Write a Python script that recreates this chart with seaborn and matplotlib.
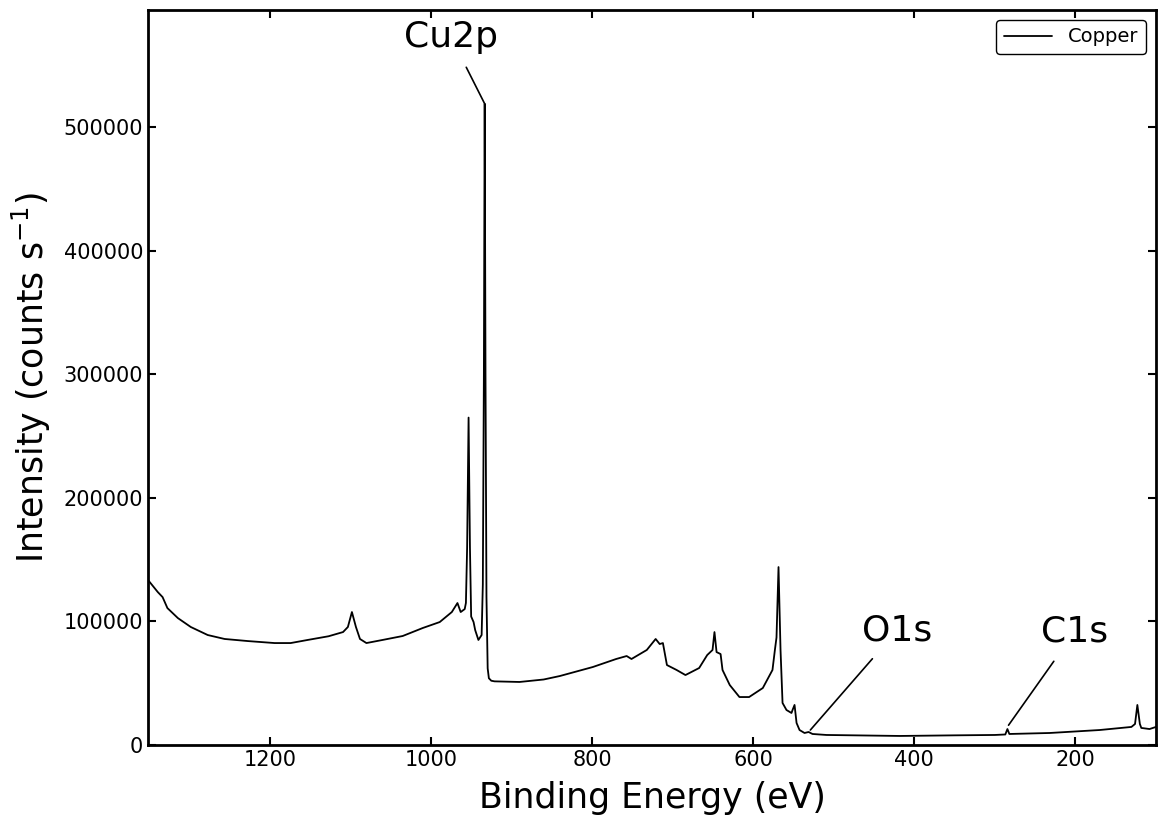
import pandas as pd
import matplotlib
matplotlib.use("Agg")
import matplotlib.pyplot as plt
import seaborn as sns
from matplotlib.ticker import ScalarFormatter

# =========================
# Data
# =========================

energy = [
    1351, 1339, 1333, 1327, 1314, 1298, 1277, 1256, 1227, 1194,
    1174, 1153, 1127, 1109, 1103, 1098, 1093, 1088, 1080, 1060,
    1035, 1010, 989, 974, 967, 963, 958, 956.5, 955.0, 953.2,
    951.5, 950.0, 947, 945, 941, 937.0, 935.5, 934.2, 933.2, 932.2,
    931.0, 929.5, 928.0, 925, 921, 890, 860, 840, 799, 770,
    757, 751, 732, 721, 716, 712, 707, 695, 684, 667,
    657, 650.4, 648, 645.4, 640.4, 638, 629, 617, 605, 588,
    576, 573, 571, 568.5, 566, 563.5, 558.6, 552.4, 551.1, 548.6,
    546.1, 542.4, 536.2, 531.2, 526.3, 509, 418, 350, 300, 287,
    284.4, 282, 232, 170, 130.5, 126, 123.1, 120, 118.2, 108,
    100,
]

intensity = [
    133500, 123800, 119700, 110800, 102700, 95500, 89000, 85800, 84100, 82500,
    82500, 85000, 88000, 91400, 95500, 107600, 95500, 85800, 82500, 85000,
    88200, 94700, 99500, 107600, 114900, 107600, 110000, 115000, 160000, 265000,
    160000, 104000, 99500, 93000, 85000, 89000, 130000, 300000, 519000, 300000,
    120000, 62000, 54000, 52000, 51500, 51000, 53000, 55800, 63100, 69600,
    72000, 69600, 76900, 85800, 81700, 82500, 64700, 60700, 56600, 62300,
    72800, 76900, 91400, 75200, 73600, 60700, 48500, 38800, 38800, 46100,
    60700, 76900, 87000, 144000, 76900, 34000, 28300, 25900, 28300, 32400,
    17800, 12100, 9700, 10500, 8900, 8100, 7300, 7800, 8100, 8500,
    12900, 8900, 9700, 12100, 14600, 17000, 32400, 17000, 13800, 12900,
    14600,
]

peak_labels = ["Cu2p", "O1s", "C1s"]
peak_energy = [933.2, 529, 283]
peak_intensity = [519000, 12100, 16000]

df = pd.DataFrame({"energy": energy, "intensity": intensity})


# =========================
# Plot
# =========================

sns.set_style("ticks")
plt.rcParams["font.family"] = ["DejaVu Sans"]
plt.rcParams.update({
    "text.color": "black",
    "axes.labelcolor": "black",
    "axes.edgecolor": "black",
    "xtick.color": "black",
    "ytick.color": "black",
})

fig, ax = plt.subplots(figsize=(11.66, 8.25), dpi=100)
fig.subplots_adjust(left=0.127, right=0.9914, bottom=0.097, top=0.988)

sns.lineplot(data=df, x="energy", y="intensity", color="black",
             linewidth=1.3, estimator=None, label="Copper", ax=ax)

ax.set_xlim(max(energy), min(energy))
ax.set_ylim(0, 595000)

fmt = ScalarFormatter(useOffset=False)
fmt.set_scientific(False)
ax.yaxis.set_major_formatter(fmt)

ax.set_xlabel("Binding Energy (eV)", fontsize=25, labelpad=8)
ax.set_ylabel(r"Intensity (counts s$^{-1}$)", fontsize=25, labelpad=8)

ax.tick_params(direction="in", top=True, right=True, length=6, width=1.5,
               labelsize=15)
for sp in ax.spines.values():
    sp.set_linewidth(2)

# peak labels
text_pos = [(975, 573000), (421, 93000), (201, 91500)]
for lab, e, i, (tx, ty) in zip(peak_labels, peak_energy, peak_intensity, text_pos):
    ax.annotate(lab, xy=(e, i), xytext=(tx, ty), ha="center", va="center",
                fontsize=26,
                arrowprops=dict(arrowstyle="-", color="black", lw=1.2,
                                shrinkA=8, shrinkB=0))

leg = ax.legend(loc="upper right", fontsize=14, frameon=True, fancybox=True,
                handlelength=2.5)
leg.get_frame().set_edgecolor("black")
leg.get_frame().set_alpha(1)

plt.savefig("out.png", dpi=100)
